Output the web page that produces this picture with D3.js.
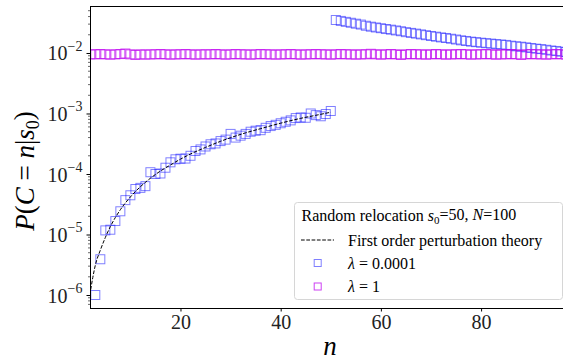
<!DOCTYPE html>
<html><head><meta charset="utf-8">
<script src="https://cdn.jsdelivr.net/npm/d3@7"></script>
<style>html,body{margin:0;padding:0;background:#fff;}svg{display:block;}</style>
</head><body>
<svg id="chart" width="563" height="361"></svg>
<script>
// ---- data ----
const xTicks = [20, 40, 60, 80];
const yTicks = [1e-6, 1e-5, 1e-4, 1e-3, 1e-2];
const yTickExps = ["−6", "−5", "−4", "−3", "−2"];

// lambda = 0.0001, n = 3..50
const blueLowStart = 3;
const blueLow = [1.0e-6, 3.9e-6, 1.17e-5, 1.2e-5, 1.67e-5, 2.42e-5, 3.7e-5, 4.45e-5, 5.65e-5, 5.9e-5,
  6.3e-5, 1.07e-4, 1.0e-4, 1.02e-4, 1.27e-4, 1.56e-4, 1.75e-4, 1.79e-4, 1.8e-4, 2.0e-4,
  2.4e-4, 2.55e-4, 2.85e-4, 3.1e-4, 3.2e-4, 3.5e-4, 3.7e-4, 4.6e-4, 4.0e-4, 4.3e-4,
  4.6e-4, 5.0e-4, 5.2e-4, 5.3e-4, 5.8e-4, 6.2e-4, 6.5e-4, 6.9e-4, 7.3e-4, 7.7e-4,
  8.4e-4, 8.6e-4, 8.5e-4, 1.0e-3, 9.4e-4, 9.0e-4, 9.8e-4, 1.1e-3];
// lambda = 0.0001, n = 51..99
const blueHighStart = 51;
const blueHigh = [0.0351, 0.0339, 0.0327, 0.0316, 0.0305, 0.0295, 0.0282, 0.0272, 0.0264, 0.0257,
  0.0249, 0.0243, 0.0236, 0.0229, 0.0221, 0.0215, 0.0209, 0.0203, 0.0197, 0.0191,
  0.0186, 0.0181, 0.0177, 0.0172, 0.0167, 0.0162, 0.0158, 0.0154, 0.0151, 0.0148,
  0.0145, 0.0143, 0.0140, 0.0138, 0.0136, 0.0132, 0.0129, 0.0127, 0.0124, 0.0121,
  0.0118, 0.0116, 0.0113, 0.0110, 0.0108, 0.0105, 0.0104, 0.0102, 0.0100];
// lambda = 1, n = 2..99
const magentaStart = 2;
const magenta = [0.0095, 0.0095, 0.0096, 0.0095, 0.0094, 0.0095, 0.0096, 0.0098, 0.0095, 0.0093,
  0.0095, 0.0094, 0.0095, 0.0095, 0.0096, 0.0095, 0.0094, 0.0095, 0.0095, 0.0096,
  0.0095, 0.0094, 0.0095, 0.0095, 0.0095, 0.0096, 0.0095, 0.0094, 0.0095, 0.0096,
  0.0095, 0.0095, 0.0094, 0.0095, 0.0096, 0.0095, 0.0095, 0.0094, 0.0095, 0.0095,
  0.0096, 0.0095, 0.0094, 0.0095, 0.0095, 0.0096, 0.0095, 0.0095, 0.0094, 0.0095,
  0.0096, 0.0095, 0.0095, 0.0094, 0.0095, 0.0095, 0.0097, 0.0095, 0.0094, 0.0095,
  0.0096, 0.0095, 0.0093, 0.0095, 0.0096, 0.0095, 0.0095, 0.0094, 0.0095, 0.0096,
  0.0095, 0.0094, 0.0095, 0.0095, 0.0096, 0.0095, 0.0094, 0.0095, 0.0095, 0.0096,
  0.0095, 0.0094, 0.0095, 0.0095, 0.0096, 0.0095, 0.0093, 0.0095, 0.0096, 0.0095,
  0.0095, 0.0094, 0.0095, 0.0096, 0.0095, 0.0094, 0.0095, 0.0095];
// first order perturbation theory
const theoryN = [1.9, 2, 2.5, 3, 4, 5, 6, 7, 8, 10, 12, 14, 16, 18, 20, 22, 25, 28, 30, 33, 36, 40, 44, 47, 50];
const theoryP = [1.0e-6, 1.12e-6, 1.95e-6, 3.1e-6, 5.5e-6, 8.91e-6, 1.35e-5, 1.91e-5, 2.57e-5, 4.17e-5,
  6.17e-5, 8.51e-5, 1.12e-4, 1.41e-4, 1.76e-4, 2.14e-4, 2.75e-4, 3.47e-4, 3.98e-4, 4.79e-4,
  5.62e-4, 6.92e-4, 8.32e-4, 9.33e-4, 1.05e-3];

// ---- drawing ----
const svg = d3.select("#chart");
const FONT = "'Liberation Serif', 'DejaVu Serif', serif";
const L = 90, R = 563, T = 6, B = 308;
const x = d3.scaleLinear().domain([1.94, 96.35]).range([L, R]);
const y = d3.scaleLog().domain([6.1e-7, 0.0598]).range([B, T]);

svg.append("defs").append("clipPath").attr("id", "clip")
  .append("rect").attr("x", L).attr("y", T).attr("width", R - L).attr("height", B - T);

const plot = svg.append("g").attr("clip-path", "url(#clip)");

const toPts = (arr, start) => arr.map((v, i) => ({ n: start + i, v }));
const S = 9;
function squares(data, color, op) {
  plot.append("g").selectAll("rect").data(data).join("rect")
    .attr("x", d => x(d.n) - S / 2).attr("y", d => y(d.v) - S / 2)
    .attr("width", S).attr("height", S)
    .attr("fill", "none").attr("stroke", color).attr("stroke-opacity", op).attr("stroke-width", 1);
}
squares(toPts(blueLow, blueLowStart), "#0000ff", 0.5);
squares(toPts(blueHigh, blueHighStart), "#0000ff", 0.5);
squares(toPts(magenta, magentaStart), "rgb(190,0,240)", 0.75);

const line = d3.line().x(d => x(d[0])).y(d => y(d[1])).curve(d3.curveMonotoneX);
plot.append("path").datum(theoryN.map((n, i) => [n, theoryP[i]]))
  .attr("d", line).attr("fill", "none").attr("stroke", "#000").attr("stroke-width", 1)
  .attr("stroke-dasharray", "3.7,1.6");

// spines
const sp = svg.append("g").attr("stroke", "#000").attr("stroke-width", 1).attr("shape-rendering", "crispEdges");
sp.append("line").attr("x1", L).attr("x2", L).attr("y1", T).attr("y2", B);
sp.append("line").attr("x1", L).attr("x2", R).attr("y1", T).attr("y2", T);
sp.append("line").attr("x1", L).attr("x2", R).attr("y1", B).attr("y2", B);

// x axis
const xAxis = d3.axisBottom(x).tickValues(xTicks).tickSize(3.5).tickPadding(3).tickFormat(d3.format("d"));
const gx = svg.append("g").attr("transform", `translate(0,${B})`).call(xAxis);
gx.select(".domain").remove();
gx.selectAll("text").attr("font-family", FONT).attr("font-size", 20).attr("fill", "#222");

// y axis major
const yAxis = d3.axisLeft(y).tickValues(yTicks).tickSize(3.5).tickPadding(4).tickFormat(() => "");
const gy = svg.append("g").attr("transform", `translate(${L},0)`).call(yAxis);
gy.select(".domain").remove();
gy.selectAll(".tick text").each(function (d, i) {
  const t = d3.select(this).attr("font-family", FONT).attr("font-size", 20).attr("fill", "#222").attr("dy", "0.35em");
  t.append("tspan").text("10");
  t.append("tspan").attr("font-size", 14).attr("dy", "-0.7em").text(yTickExps[i]);
});
// y minor ticks
const minor = [];
[-7, -6, -5, -4, -3, -2].forEach(e => { for (let k = 2; k <= 9; k++) { const v = k * Math.pow(10, e); if (v >= y.domain()[0] && v <= y.domain()[1]) minor.push(v); } });
svg.append("g").selectAll("line").data(minor).join("line")
  .attr("x1", L - 2).attr("x2", L).attr("y1", d => y(d)).attr("y2", d => y(d))
  .attr("stroke", "#000").attr("stroke-width", 0.6);

// axis labels
svg.append("text").attr("x", 330).attr("y", 355).attr("text-anchor", "middle")
  .attr("font-family", FONT).attr("font-size", 27).attr("font-style", "italic").text("n");
const yl = svg.append("text").attr("transform", "translate(34,171) rotate(-90)").attr("text-anchor", "middle")
  .attr("font-family", FONT).attr("font-size", 27);
yl.append("tspan").attr("font-style", "italic").text("P");
yl.append("tspan").text("(");
yl.append("tspan").attr("font-style", "italic").text("C");
yl.append("tspan").text(" = ");
yl.append("tspan").attr("font-style", "italic").text("n");
yl.append("tspan").text("|");
yl.append("tspan").attr("font-style", "italic").text("s");
yl.append("tspan").attr("font-size", 18).attr("dy", "0.25em").text("0");
yl.append("tspan").attr("dy", "-0.2em").text(")");

// legend
const lg = svg.append("g");
lg.append("rect").attr("x", 294.5).attr("y", 202.5).attr("width", 268).attr("height", 97).attr("rx", 3)
  .attr("fill", "#fff").attr("fill-opacity", 0.8).attr("stroke", "#d6d6d6").attr("stroke-width", 1);
const title = lg.append("text").attr("x", 301.5).attr("y", 221).attr("font-family", FONT).attr("font-size", 16);
title.append("tspan").text("Random relocation ");
title.append("tspan").attr("font-style", "italic").text("s");
title.append("tspan").attr("font-size", 11).attr("dy", "0.25em").text("0");
title.append("tspan").attr("dy", "-0.25em").text("=50, ");
title.append("tspan").attr("font-style", "italic").text("N");
title.append("tspan").text("=100");

lg.append("line").attr("x1", 301).attr("x2", 334).attr("y1", 240).attr("y2", 240)
  .attr("stroke", "#000").attr("stroke-width", 1).attr("stroke-dasharray", "3.7,1.6");
lg.append("text").attr("x", 348).attr("y", 245.5).attr("font-family", FONT).attr("font-size", 16)
  .text("First order perturbation theory");

const legItems = [["#0000ff", 0.5, "0.0001", 263], ["rgb(190,0,240)", 0.75, "1", 286.5]];
legItems.forEach(([c, op, lab, yy]) => {
  lg.append("rect").attr("x", 317.7 - 3.5).attr("y", yy - 3.5).attr("width", 7).attr("height", 7)
    .attr("fill", "none").attr("stroke", c).attr("stroke-opacity", op);
  const t = lg.append("text").attr("x", 348).attr("y", yy + 5.5).attr("font-family", FONT).attr("font-size", 16);
  t.append("tspan").attr("font-style", "italic").text("λ");
  t.append("tspan").text(" = " + lab);
});
</script>
</body></html>
